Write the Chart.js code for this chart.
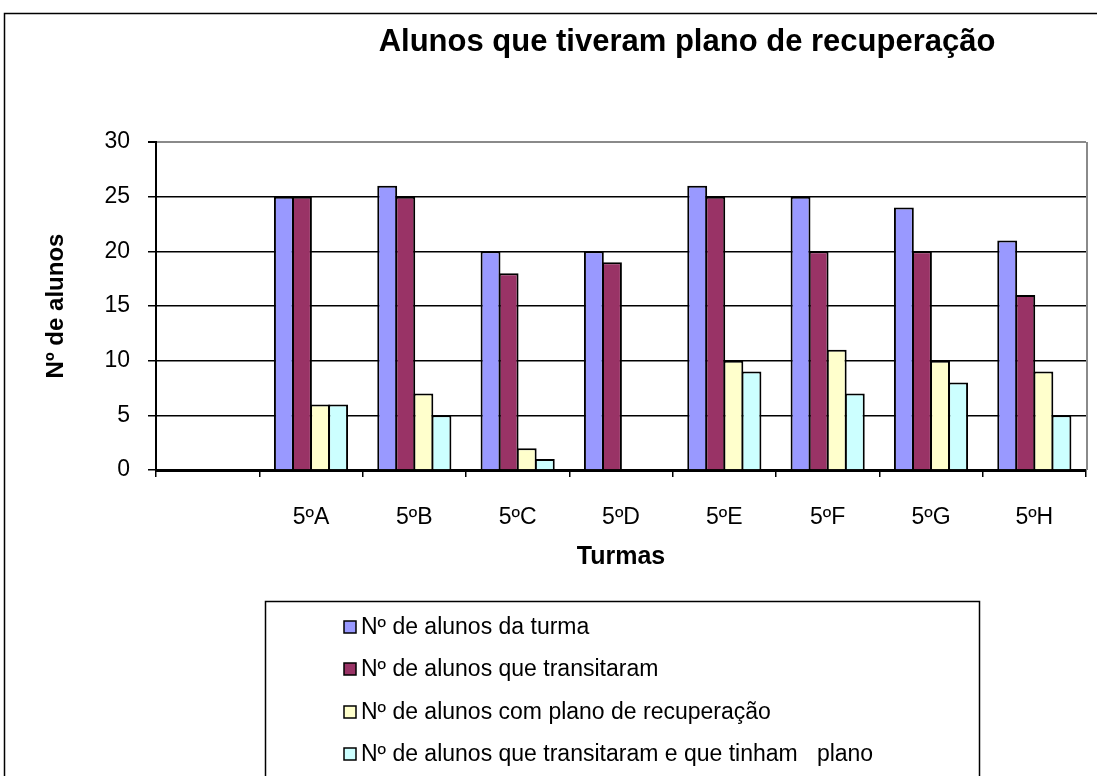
<!DOCTYPE html>
<html>
<head>
<meta charset="utf-8">
<script src="https://cdn.jsdelivr.net/npm/chart.js@4.4.1/dist/chart.umd.min.js"></script>
<style>
html,body{margin:0;padding:0;background:#fff;overflow:hidden}
#wrap{position:relative;width:1097px;height:776px}
</style>
</head>
<body>
<div id="wrap"><canvas id="c" width="1097" height="776"></canvas></div>
<script>
const chartTitle = 'Alunos que tiveram plano de recuperação';
const categories = ['', '5ºA', '5ºB', '5ºC', '5ºD', '5ºE', '5ºF', '5ºG', '5ºH'];
const seriesNames = [
  'Nº de alunos da turma',
  'Nº de alunos que transitaram',
  'Nº de alunos com plano de recuperação',
  'Nº de alunos que transitaram e que tinham   plano'
];
const alunosTurma       = [null, 25, 26, 20, 20, 26, 25, 24, 21];
const alunosTransitaram = [null, 25, 25, 18, 19, 25, 20, 20, 16];
const alunosComPlano    = [null, 6, 7, 2, 0, 10, 11, 10, 9];
const transitaramPlano  = [null, 6, 5, 1, 0, 9, 7, 8, 5];
const yTicks = [0, 5, 10, 15, 20, 25, 30];
const colors = ['#9999FF', '#993366', '#FFFFCC', '#CCFFFF'];

const FONT = "'Liberation Sans', Arial, Helvetica, sans-serif";
Chart.defaults.font.family = FONT;
Chart.defaults.color = '#000';

const series = [alunosTurma, alunosTransitaram, alunosComPlano, transitaramPlano];

const decor = {
  id: 'decor',
  beforeDraw(chart) {
    const ctx = chart.ctx;
    ctx.save();
    ctx.fillStyle = '#fff';
    ctx.fillRect(0, 0, chart.width, chart.height);
    ctx.restore();
  },
  afterDatasetsDraw(chart) {
    const {ctx, chartArea: a} = chart;
    ctx.save();
    ctx.strokeStyle = '#8a8a8a';
    ctx.lineWidth = 2;
    ctx.beginPath();
    ctx.moveTo(a.right + 1, a.top);
    ctx.lineTo(a.right + 1, a.bottom);
    ctx.stroke();
    ctx.restore();
  },
  afterDraw(chart) {
    const ctx = chart.ctx;
    ctx.save();
    ctx.strokeStyle = '#000';
    ctx.lineWidth = 1.5;
    ctx.strokeRect(4.5, 13.5, 2000, 2000);
    ctx.fillStyle = '#000';
    ctx.font = "bold 31px " + FONT;
    ctx.textAlign = 'center';
    ctx.textBaseline = 'alphabetic';
    ctx.fillText(chartTitle, 687, 51);
    ctx.lineWidth = 1.5;
    ctx.strokeRect(265.5, 601.5, 714, 400);
    ctx.font = "23px " + FONT;
    ctx.textAlign = 'left';
    ctx.textBaseline = 'middle';
    const rowsY = [628, 670, 713, 755];
    chart.data.datasets.forEach((ds, i) => {
      const y = rowsY[i];
      ctx.fillStyle = ds.backgroundColor;
      ctx.fillRect(344, y - 7, 12, 12);
      ctx.strokeStyle = '#000';
      ctx.lineWidth = 1.5;
      ctx.strokeRect(344, y - 7, 12, 12);
      ctx.fillStyle = '#000';
      ctx.fillText(ds.label, 361, y);
    });
    ctx.restore();
  }
};

new Chart(document.getElementById('c'), {
  type: 'bar',
  data: {
    labels: categories,
    datasets: series.map((d, i) => ({
      label: seriesNames[i],
      data: d,
      backgroundColor: colors[i],
      borderColor: '#000',
      borderWidth: 2,
      barPercentage: 1.1,
      categoryPercentage: 0.70
    }))
  },
  options: {
    responsive: false,
    animation: false,
    devicePixelRatio: 1,
    layout: {padding: {left: 0, top: 142, right: 11, bottom: 204}},
    plugins: {
      legend: {display: false},
      title: {display: false},
      tooltip: {enabled: false}
    },
    scales: {
      x: {
        grid: {display: true, drawOnChartArea: false, drawTicks: true, tickLength: 7, color: '#000', lineWidth: 1.5, offset: true},
        border: {display: true, color: '#000', width: 3},
        ticks: {font: {size: 23}, color: '#000', padding: 27, maxRotation: 0, autoSkip: false},
        title: {display: true, text: 'Turmas', font: {size: 25, weight: 'bold'}, color: '#000', padding: {top: 0, bottom: 0}},
        afterFit(s) { s.height = 102; }
      },
      y: {
        min: 0, max: 30,
        afterBuildTicks(s) { s.ticks = yTicks.map(v => ({value: v})); },
        grid: {
          color: (c) => (c.tick && c.tick.value === 30) ? '#8a8a8a' : '#000',
          lineWidth: (c) => (c.tick && c.tick.value === 30) ? 2 : 1.5,
          tickLength: 8,
          tickColor: '#000',
          drawTicks: true
        },
        border: {display: true, color: '#000', width: 2},
        ticks: {font: {size: 23}, color: '#000', padding: 18},
        title: {display: true, text: 'Nº de alunos', font: {size: 24, weight: 'bold'}, color: '#000', padding: {top: 42, bottom: 0}},
        afterFit(s) { s.width = 156; }
      }
    }
  },
  plugins: [decor]
});
</script>
</body>
</html>
